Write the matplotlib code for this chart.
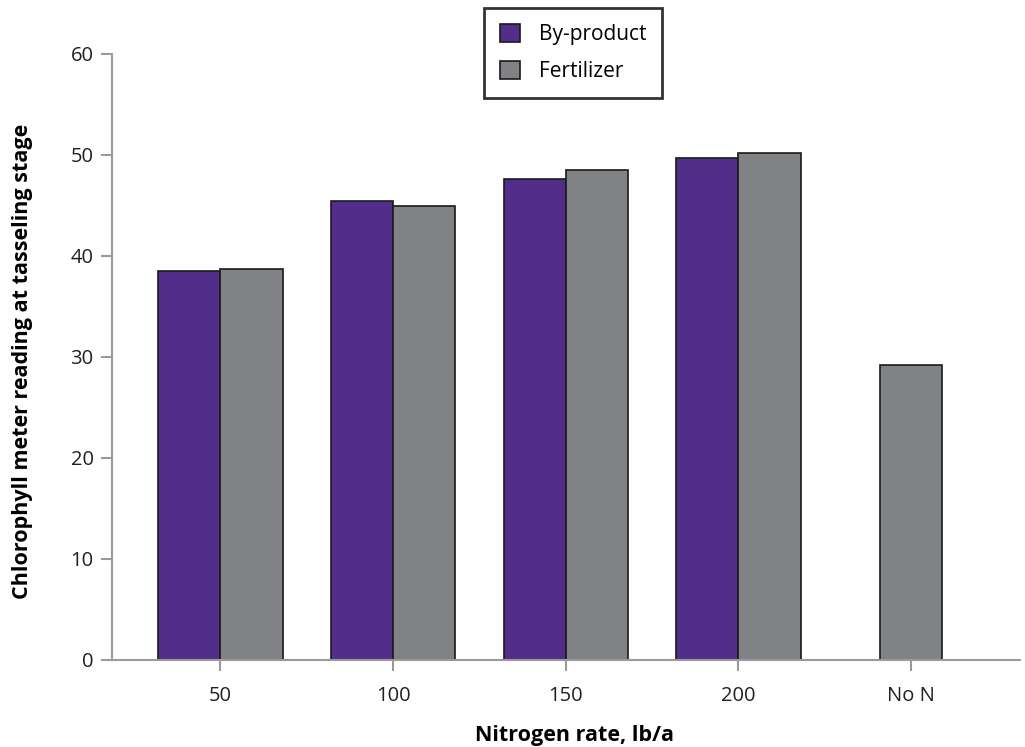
import matplotlib
matplotlib.use("Agg")
import matplotlib.pyplot as plt
import numpy as np

# Dati
categorie = ["50", "100", "150", "200", "No N"]
sottoprodotto = [38.5, 45.4, 47.6, 49.7, None]
fertilizzante = [38.7, 44.9, 48.5, 50.2, 29.2]

viola = "#522d89"
grigio = "#818285"
asse = "#9a9a9c"

plt.rcParams['font.family'] = ['Open Sans', 'DejaVu Sans']

fig = plt.figure(figsize=(10.25, 7.47), dpi=100)
ax = fig.add_axes([0.109, 0.1165, 0.886, 0.8115])

x = np.arange(len(categorie))
w = 0.36
for i, (b, f) in enumerate(zip(sottoprodotto, fertilizzante)):
    if b is None:
        # solo fertilizzante: barra centrata
        ax.bar(x[i], f, w, color=grigio, edgecolor="#1a1a1a", linewidth=1.2)
    else:
        ax.bar(x[i] - w / 2, b, w, color=viola, edgecolor="#1a1a1a", linewidth=1.2,
               label="By-product" if i == 0 else None)
        ax.bar(x[i] + w / 2, f, w, color=grigio, edgecolor="#1a1a1a", linewidth=1.2,
               label="Fertilizer" if i == 0 else None)

ax.set_xlim(-0.63, 4.63)
ax.set_ylim(0, 60)
ax.set_yticks(range(0, 61, 10))
ax.set_xticks(x)
ax.set_xticklabels(categorie)

for s in ["top", "right"]:
    ax.spines[s].set_visible(False)
for s in ["left", "bottom"]:
    ax.spines[s].set_color(asse)
    ax.spines[s].set_linewidth(1.5)
ax.tick_params(axis="both", colors=asse, length=8, width=1.5, direction="out",
               labelcolor="#231f20", labelsize=14.5)
ax.tick_params(axis="x", pad=11)
ax.tick_params(axis="y", pad=5)

ax.set_xlabel("Nitrogen rate, lb/a", fontsize=15.5, fontweight="bold", color="#000000")
ax.xaxis.set_label_coords(0.51, -0.107)
ax.set_ylabel("Chlorophyll meter reading at tasseling stage", fontsize=15.5, fontweight="bold",
              color="#000000")
ax.yaxis.set_label_coords(-0.087, 0.492)

leg = fig.legend(loc="upper left", bbox_to_anchor=(484 / 1025, 1 - 8 / 747), fontsize=15,
                 frameon=True, fancybox=False, handlelength=1.0, handleheight=1.0,
                 borderpad=0.75, labelspacing=0.75, handletextpad=0.9, borderaxespad=0)
leg.get_frame().set_edgecolor("#000000")
leg.get_frame().set_linewidth(2)

fig.savefig("out.png", dpi=100)
